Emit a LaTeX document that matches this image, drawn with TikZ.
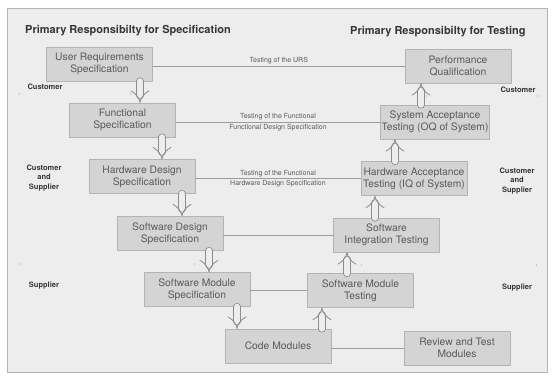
\documentclass[tikz,border=0pt]{standalone}
\usepackage{fontspec}
\setmainfont{TeX Gyre Heros}
\usetikzlibrary{arrows.meta}
\definecolor{framebg}{HTML}{EDEDED}
\definecolor{boxfill}{HTML}{D4D4D4}
\definecolor{boxline}{HTML}{B4B4B4}
\definecolor{inktext}{HTML}{5A5A5A}
\definecolor{inktitle}{HTML}{363636}
\definecolor{wire}{HTML}{9C9C9C}
\begin{document}
\begin{tikzpicture}[x=1pt,y=-1pt,line cap=round,line join=round,
        phase/.style={draw=boxline,fill=boxfill,text=inktext,minimum width=106pt,minimum height=34pt,align=center,font=\fontsize{10.3}{12}\selectfont,inner sep=1pt},
        wirelabel/.style={text=inktext,font=\fontsize{7}{8}\selectfont,inner sep=1.5pt},
        side/.style={text=inktitle,font=\bfseries\fontsize{7.5}{9.5}\selectfont,align=center,inner sep=0pt},
        heading/.style={text=inktitle,font=\bfseries\fontsize{11}{13}\selectfont,anchor=west,inner sep=0pt},
        wire/.style={draw=wire,line width=0.6pt},
        hollow/.style={draw=wire!90!black,double=framebg,double distance=6pt,line width=0.8pt,-{Implies}},
        divider/.style={draw=wire,double=framebg,double distance=1.4pt,line width=0.5pt}]
        \useasboundingbox (0,0) rectangle (553,375);
        \draw[draw=boxline,fill=framebg] (7,8) rectangle (547,372);

        \node[heading] (spectitle) at (25,31) {Primary Responsibilty for Specification};
        \node[heading] (testtitle) at (350,32) {Primary Responsibilty for Testing};

        \node[phase] (urs) at (99.5,64) {User Requirements\\Specification};
        \node[phase] (pq) at (458,66) {Performance\\Qualification};
        \node[phase] (fs) at (122.5,120) {Functional\\Specification};
        \node[phase] (oq) at (435,122) {System Acceptance\\Testing (OQ of System)};
        \node[phase] (hds) at (142,176.5) {Hardware Design\\Specification};
        \node[phase] (iq) at (414,178.5) {Hardware Acceptance\\Testing (IQ of System)};
        \node[phase] (sds) at (170,233.5) {Software Design\\Specification};
        \node[phase] (sit) at (386.5,235) {Software\\Integration Testing};
        \node[phase] (sms) at (197,289.5) {Software Module\\Specification};
        \node[phase] (smt) at (360.5,290.5) {Software Module\\Testing};
        \node[phase] (cm) at (278,346) {Code Modules};
        \node[phase] (rtm) at (457,348) {Review and Test\\Modules};

        \node[side] (custl) at (45,87) {Customer};
        \node[side] (custr) at (518,90) {Customer};
        \node[side] (csl) at (44,178) {Customer\\and\\Supplier};
        \node[side] (csr) at (517,181) {Customer\\and\\Supplier};
        \node[side] (supl) at (44,286) {Supplier};
        \node[side] (supr) at (517,288) {Supplier};

        \draw[divider] (20,94) -- (130,94);
        \draw[divider] (427,96) -- (537,96);
        \draw[divider] (20,264) -- (194,264);
        \draw[divider] (362,265) -- (536,265);

        \draw[wire] (urs.east |- pq.west) -- (pq.west)
            node[wirelabel,midway,above] (ursl) {Testing of the URS};
        \draw[wire] (fs.east |- oq.west) -- (oq.west)
            node[wirelabel,midway,above] (fsla) {Testing of the Functional}
            node[wirelabel,midway,below] (fslb) {Functional Design Specification};
        \draw[wire] (hds.east |- iq.west) -- (iq.west)
            node[wirelabel,midway,above] (hdsla) {Testing of the Functional}
            node[wirelabel,midway,below] (hdslb) {Hardware Design Specification};
        \draw[wire] (sds.east |- sit.west) -- (sit.west);
        \draw[wire] (sms.east |- smt.west) -- (smt.west);
        \draw[wire] (cm.east |- rtm.west) -- (rtm.west);

        \draw[hollow] (140,0 |- urs.south) -- (140,0 |- fs.north);
        \draw[hollow] (162,0 |- fs.south) -- (162,0 |- hds.north);
        \draw[hollow] (182,0 |- hds.south) -- (182,0 |- sds.north);
        \draw[hollow] (209,0 |- sds.south) -- (209,0 |- sms.north);
        \draw[hollow] (237,0 |- sms.south) -- (237,0 |- cm.north);
        \draw[hollow] (322,0 |- cm.north) -- (322,0 |- smt.south);
        \draw[hollow] (347,0 |- smt.north) -- (347,0 |- sit.south);
        \draw[hollow] (375,0 |- sit.north) -- (375,0 |- iq.south);
        \draw[hollow] (395,0 |- iq.north) -- (395,0 |- oq.south);
        \draw[hollow] (421,0 |- oq.north) -- (421,0 |- pq.south);
\end{tikzpicture}
\end{document}
